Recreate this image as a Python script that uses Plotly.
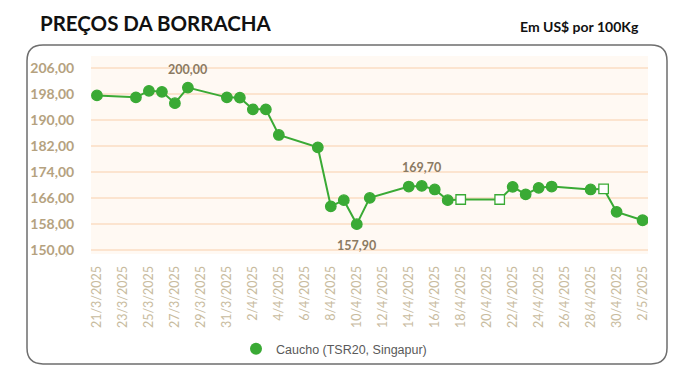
import plotly.graph_objects as go

# ---- data ----
dates = ["2025-03-21", "2025-03-24", "2025-03-25", "2025-03-26", "2025-03-27", "2025-03-28",
         "2025-03-31", "2025-04-01", "2025-04-02", "2025-04-03", "2025-04-04", "2025-04-07",
         "2025-04-08", "2025-04-09", "2025-04-10", "2025-04-11", "2025-04-14", "2025-04-15",
         "2025-04-16", "2025-04-17", "2025-04-18", "2025-04-21", "2025-04-22", "2025-04-23",
         "2025-04-24", "2025-04-25", "2025-04-28", "2025-04-29", "2025-04-30", "2025-05-02"]
prices = [197.6, 197.0, 199.0, 198.7, 195.2, 200.0,
          197.0, 196.9, 193.3, 193.3, 185.4, 181.6,
          163.4, 165.3, 157.9, 166.0, 169.5, 169.7,
          168.6, 165.3, 165.5, 165.5, 169.4, 167.1,
          169.1, 169.5, 168.6, 168.8, 161.7, 159.1]
estimated = [False] * 20 + [True, True] + [False] * 5 + [True] + [False, False]

tick_dates = ["2025-03-21", "2025-03-23", "2025-03-25", "2025-03-27", "2025-03-29", "2025-03-31",
              "2025-04-02", "2025-04-04", "2025-04-06", "2025-04-08", "2025-04-10", "2025-04-12",
              "2025-04-14", "2025-04-16", "2025-04-18", "2025-04-20", "2025-04-22", "2025-04-24",
              "2025-04-26", "2025-04-28", "2025-04-30", "2025-05-02"]
tick_labels = ["21/3/2025", "23/3/2025", "25/3/2025", "27/3/2025", "29/3/2025", "31/3/2025",
               "2/4/2025", "4/4/2025", "6/4/2025", "8/4/2025", "10/4/2025", "12/4/2025",
               "14/4/2025", "16/4/2025", "18/4/2025", "20/4/2025", "22/4/2025", "24/4/2025",
               "26/4/2025", "28/4/2025", "30/4/2025", "2/5/2025"]
y_ticks = [150, 158, 166, 174, 182, 190, 198, 206]

series_name = "Caucho (TSR20, Singapur)"
title_text = "PREÇOS DA BORRACHA"
unit_text = "Em US$ por 100Kg"

# ---- layout geometry ----
W, H = 700, 376
L, R, T, B = 91, 52, 56, 120
PW, PH = W - L - R, H - T - B
GREEN = "#3AAA35"

def px(x):
    return (x - L) / PW

def py(y):
    return (H - B - y) / PH

fig = go.Figure()

fig.add_trace(go.Scatter(
    x=dates, y=prices, mode="lines+markers", showlegend=False,
    line=dict(color=GREEN, width=2),
    marker=dict(
        symbol=["square" if e else "circle" for e in estimated],
        size=[9.5 if e else 10.5 for e in estimated],
        color=["#FFFFFF" if e else GREEN for e in estimated],
        opacity=1,
        line=dict(color=GREEN, width=1.3),
    ),
    hoverinfo="skip",
))

# legend-only entry
fig.add_trace(go.Scatter(
    x=[None], y=[None], mode="markers", name=series_name,
    marker=dict(symbol="circle", size=12, color=GREEN, opacity=1),
))

def fmt(v):
    return f"{v:.2f}".replace(".", ",")

imax = prices.index(max(prices[:10]))
i2 = prices.index(max(prices[12:]))
imin = prices.index(min(prices))
for i, shift in [(imax, 18), (i2, 18), (imin, -21)]:
    fig.add_annotation(x=dates[i], y=prices[i], text=fmt(prices[i]), showarrow=False,
                       yshift=shift, font=dict(family="Lato", size=12.5, color="#8B7A62", weight="bold"))

# title texts
fig.add_annotation(xref="paper", yref="paper", x=px(38), y=py(23), xanchor="left", yanchor="middle",
                   text=title_text, showarrow=False,
                   font=dict(family="Lato", size=20.5, color="#111111", weight="bold"))
fig.add_annotation(xref="paper", yref="paper", x=px(641), y=py(26), xanchor="right", yanchor="middle",
                   text=unit_text, showarrow=False,
                   font=dict(family="Lato", size=14, color="#111111", weight="bold"))

# rounded frame
x0, y0, x1, y1, r = 27, 45, 667, 367, 16
path = (f"M {px(x0 + r)},{py(y0)} L {px(x1 - r)},{py(y0)} Q {px(x1)},{py(y0)} {px(x1)},{py(y0 + r)} "
        f"L {px(x1)},{py(y1 - r)} Q {px(x1)},{py(y1)} {px(x1 - r)},{py(y1)} "
        f"L {px(x0 + r)},{py(y1)} Q {px(x0)},{py(y1)} {px(x0)},{py(y1 - r)} "
        f"L {px(x0)},{py(y0 + r)} Q {px(x0)},{py(y0)} {px(x0 + r)},{py(y0)} Z")
fig.add_shape(type="path", xref="paper", yref="paper", path=path,
              line=dict(color="#6E6E6E", width=1.5), layer="below")

fig.update_layout(
    width=W, height=H,
    margin=dict(l=L, r=R, t=T, b=B, pad=0),
    paper_bgcolor="white", plot_bgcolor="#FFF9F3",
    separators=",.",
    showlegend=True,
    hovermode=False,
    legend=dict(orientation="h", x=px(334), xanchor="center", y=py(352), yanchor="middle",
                font=dict(family="Liberation Sans", size=12.5, color="#595959"),
                bgcolor="rgba(0,0,0,0)"),
    xaxis=dict(
        type="date", range=["2025-03-20 13:00", "2025-05-02 10:00"],
        tickvals=tick_dates, ticktext=tick_labels, tickangle=-90,
        tickfont=dict(family="Lato", size=12.5, color="#C8BB9E"),
        showgrid=False, zeroline=False, showline=False, automargin=False,
        ticks="outside", ticklen=6, tickcolor="rgba(0,0,0,0)",
    ),
    yaxis=dict(
        range=[148.7, 209.75], tickvals=y_ticks, tickformat=".2f",
        tickfont=dict(family="Lato", size=14, color="#B5A27F", weight="bold"),
        showgrid=True, gridcolor="#FCE4CF", gridwidth=1.5, zeroline=False, showline=False,
        automargin=False,
        ticks="outside", ticklen=13, tickcolor="rgba(0,0,0,0)",
    ),
)

fig.write_html("out.html", config={"displayModeBar": False, "staticPlot": True},
               post_script="document.body.style.margin='0';")
